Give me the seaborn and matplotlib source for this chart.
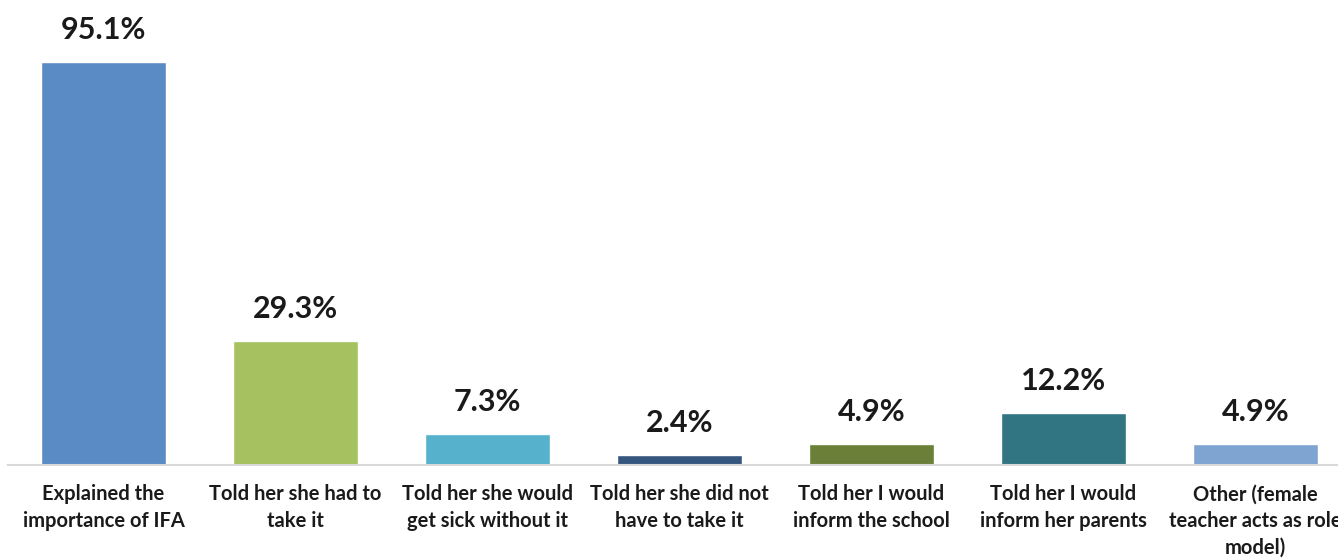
import matplotlib
matplotlib.use("Agg")
import matplotlib.pyplot as plt
import seaborn as sns
import pandas as pd

categories = [
    "Explained the\nimportance of IFA",
    "Told her she had to\ntake it",
    "Told her she would\nget sick without it",
    "Told her she did not\nhave to take it",
    "Told her I would\ninform the school",
    "Told her I would\ninform her parents",
    "Other (female\nteacher acts as role\nmodel)",
]
values = [95.1, 29.3, 7.3, 2.4, 4.9, 12.2, 4.9]
colors = ["#5B8BC4", "#A5C160", "#56B1CC", "#35577F", "#6B7F39", "#317583", "#7FA4D1"]

df = pd.DataFrame({"category": categories, "value": values})

sns.set_theme(style="white")
plt.rcParams["font.family"] = ["Lato", "DejaVu Sans"]

fig = plt.figure(figsize=(13.38, 5.58), dpi=100)
ax = fig.add_axes([7.5 / 1338, 93 / 558, 1344 / 1338, 424 / 558])

sns.barplot(data=df, x="category", y="value", hue="category", palette=colors,
            width=0.65, legend=False, ax=ax, saturation=1)

ax.set_xlim(-0.5, 6.5)
ax.set_ylim(0, 100)
ax.set_xlabel("")
ax.set_ylabel("")
ax.set_yticks([])
for side in ["top", "right", "left"]:
    ax.spines[side].set_visible(False)
ax.spines["bottom"].set_color("#D9D9D9")
ax.spines["bottom"].set_linewidth(1.5)
ax.tick_params(axis="x", length=0, pad=14)
for lbl in ax.get_xticklabels():
    lbl.set_fontsize(14.5)
    lbl.set_fontweight("bold")
    lbl.set_color("#1a1a1a")
    lbl.set_linespacing(1.42)
    lbl.set_va("top")

for i, v in enumerate(values):
    ax.annotate(f"{v:.1f}%", (i, v), xytext=(0, 13), textcoords="offset points",
                ha="center", va="bottom", fontsize=22, fontweight="bold",
                color="#1a1a1a")

fig.savefig("out.png", dpi=100)
